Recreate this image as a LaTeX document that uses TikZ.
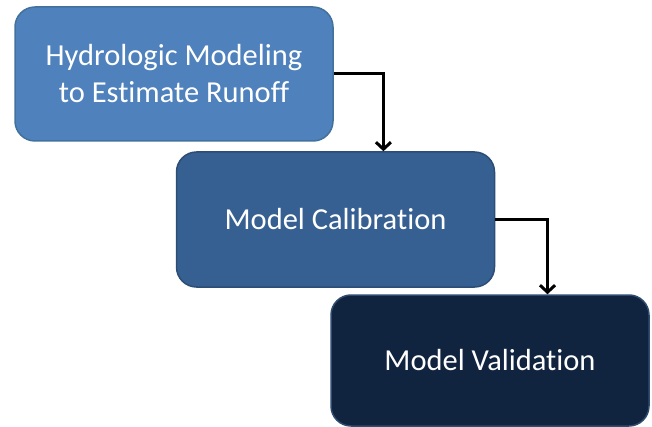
\documentclass[tikz,border=0pt]{standalone}
\usepackage{fontspec}
\setmainfont{Carlito}[RawFeature={-liga;-dlig;-clig}]
\usetikzlibrary{arrows.meta,calc}
\definecolor{boxA}{HTML}{4F81BD}
\definecolor{boxAline}{HTML}{41719C}
\definecolor{boxB}{HTML}{376092}
\definecolor{boxBline}{HTML}{2C4D75}
\definecolor{boxC}{HTML}{10243F}
\definecolor{boxCline}{HTML}{2F4B70}
\tikzset{
  stagebox/.style={rounded corners=20pt, line width=1.5pt, minimum width=318pt,
    inner sep=0pt, text=white, align=center,
    font=\fontsize{30.5}{37}\selectfont},
  flowarrow/.style={line width=3pt, -{Straight Barb[length=7pt,width=15pt,line width=3pt]}}
}
\begin{document}
\begin{tikzpicture}[x=1pt,y=-1pt]
\useasboundingbox (0,0) rectangle (652,427);
\node[stagebox, fill=boxA, draw=boxAline, minimum height=134pt] (b1) at (174,74) {Hydrologic Modeling\\to Estimate Runoff};
\node[stagebox, fill=boxB, draw=boxBline, minimum height=135pt] (b2) at (335.5,219.5) {Model Calibration};
\node[stagebox, fill=boxC, draw=boxCline, minimum height=131pt] (b3) at (490,360.5) {Model Validation};
\draw[flowarrow] (b1.east) -| ($(b2.north west)!0.65!(b2.north east)$);
\draw[flowarrow] (b2.east) -| ($(b3.north west)!0.68!(b3.north east)$);
\end{tikzpicture}
\end{document}
